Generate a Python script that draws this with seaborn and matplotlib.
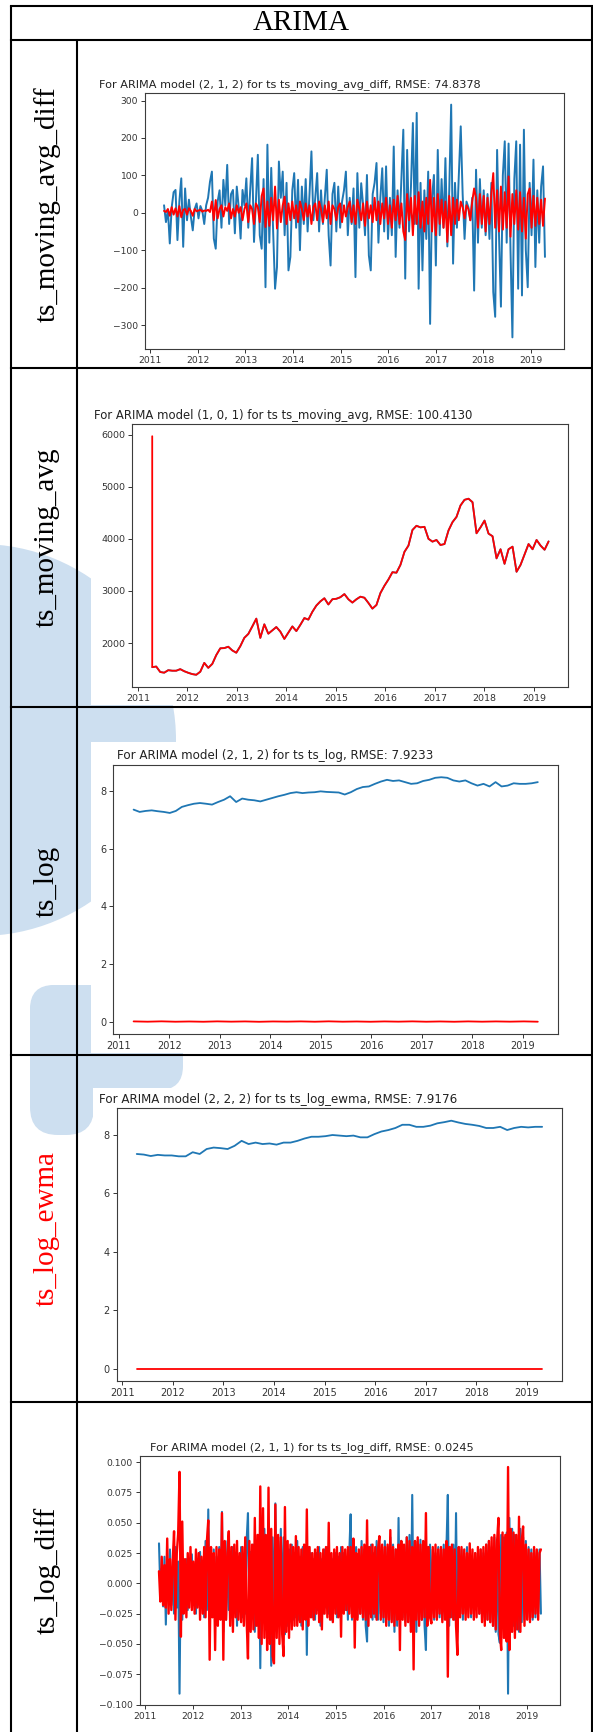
import numpy as np
import pandas as pd
import matplotlib
matplotlib.use("Agg")
import matplotlib.pyplot as plt
import matplotlib.dates as mdates
from matplotlib.patches import Circle, FancyBboxPatch, Rectangle
import seaborn as sns

# ---------------------------------------------------------------- data
START, END = "2011-04-17", "2019-04-20"

row_labels = ["ts_moving_avg_diff", "ts_moving_avg", "ts_log", "ts_log_ewma", "ts_log_diff"]
row_label_colors = ["black", "black", "black", "red", "black"]
header = "ARIMA"
titles = [
    "For ARIMA model (2, 1, 2) for ts ts_moving_avg_diff, RMSE: 74.8378",
    "For ARIMA model (1, 0, 1) for ts ts_moving_avg, RMSE: 100.4130",
    "For ARIMA model (2, 1, 2) for ts ts_log, RMSE: 7.9233",
    "For ARIMA model (2, 2, 2) for ts ts_log_ewma, RMSE: 7.9176",
    "For ARIMA model (2, 1, 1) for ts ts_log_diff, RMSE: 0.0245",
]

# ts_moving_avg_diff: observed (blue) and fitted (red)
mad_obs = [
    20, -25, 8, -82, 15, 55, 61, -73, 30, 92,
    -91, 65, -20, 35, -10, -47, 10, 25, -15, 18,
    5, -30, 20, 40, 83, 110, -69, -96, 30, 60,
    -40, 88, 20, 128, -30, 50, 61, -55, 70, 15,
    -69, 61, 20, 92, -40, 60, 146, -78, 30, 155,
    -60, -96, 90, -199, 182, -80, 120, -50, -203, -145,
    137, 40, 110, -60, 80, -154, -118, 60, 106, -40,
    88, -100, 70, -30, 90, -50, 50, 164, -20, 40,
    106, -50, 60, -30, 40, 115, -60, -141, 50, 80,
    -50, 70, -40, 30, 60, 110, -60, 40, -30, 65,
    -172, 106, -40, 79, 20, -60, 101, -114, -154, 50,
    80, 133, -80, 40, 119, -50, 124, -70, 40, -60,
    177, -118, 60, -40, 90, 222, -176, 168, -50, 70,
    240, -30, 267, -203, 80, -154, 60, -70, 110, -297,
    40, 101, -141, 168, -60, 90, -40, 146, -90, 60,
    289, -136, 80, -40, 100, 231, 50, -70, 30, 15,
    -20, 40, -208, 115, -80, 90, -40, 60, -60, 50,
    -70, 80, -212, -278, 168, -60, -251, 100, 191, -80,
    185, -100, -333, 90, 191, -203, 182, -221, 222, -100,
    -199, 80, -60, 142, -145, 60, -80, 70, 124, -118,
]
mad_fit = [
    5, 2, 10, -8, 15, -5, 12, -10, 18, -12,
    8, 10, -5, 12, 5, -8, 10, 4, 6, 8,
    3, 6, 5, 8, 2, 30, -20, 34, -15, 10,
    20, -10, 15, 5, 25, -15, 10, -10, 20, 0,
    15, -20, 10, 25, -25, 20, 10, -30, 25, 15,
    -25, 45, 65, -38, 30, -35, 40, -20, 70, -42,
    35, -25, 20, 43, -30, 25, -20, 30, -15, 20,
    -25, 30, 10, -20, 25, -10, 20, -30, 15, 25,
    -20, 30, 10, -25, 20, -15, 30, -30, 20, 10,
    -20, 15, 25, -25, 20, -10, 15, 30, -25, 20,
    -30, 35, 10, -20, 25, -35, 30, -15, 20, -25,
    40, -20, 30, -30, 25, -15, 40, -30, 20, -40,
    35, -20, 45, -30, 25, -50, -73, 50, -20, 40,
    -60, 45, -30, 55, -40, 30, -50, 40, -30, 88,
    -50, 40, -60, 50, -30, 35, -40, 30, -78, 45,
    -60, 40, -30, 35, -20, 30, 15, -15, 20, 10,
    -20, 30, 65, 40, -40, 50, -30, 45, -50, 40,
    -30, 50, 106, -40, 60, -50, 70, -45, 55, -40,
    97, -64, 50, -30, 60, -45, 55, -50, 40, -69,
    50, 65, -40, 45, -35, 40, -30, 35, -35, 38,
]

# ts_moving_avg: observed series and the first fitted value
ma_obs = [
    1538, 1550, 1445, 1432, 1480, 1470, 1470, 1500, 1460, 1430,
    1405, 1392, 1450, 1620, 1525, 1600, 1770, 1900, 1904, 1930,
    1859, 1815, 1940, 2100, 2175, 2320, 2469, 2100, 2360, 2180,
    2244, 2308, 2220, 2080, 2200, 2320, 2230, 2350, 2480, 2450,
    2600, 2720, 2800, 2860, 2740, 2841, 2850, 2880, 2940, 2840,
    2777, 2840, 2890, 2870, 2770, 2661, 2730, 2960, 3100, 3220,
    3360, 3350, 3500, 3750, 3870, 4170, 4250, 4220, 4230, 4000,
    3946, 3978, 3881, 3900, 4160, 4320, 4420, 4640, 4748, 4770,
    4703, 4106, 4220, 4350, 4100, 4050, 3625, 3800, 3520, 3800,
    3850, 3368, 3500, 3700, 3900, 3800, 3978, 3870, 3790, 3950,
]
ma_fit_first = 5968

# ts_log: observed (blue) and fitted (red)
log_obs = [
    7.356, 7.276, 7.31, 7.33, 7.30, 7.276, 7.24, 7.31, 7.45, 7.51,
    7.56, 7.585, 7.56, 7.53, 7.62, 7.70, 7.82, 7.62, 7.74, 7.70,
    7.68, 7.64, 7.70, 7.76, 7.82, 7.87, 7.93, 7.96, 7.93, 7.95,
    7.96, 7.99, 7.97, 7.96, 7.95, 7.88, 7.96, 8.07, 8.14, 8.16,
    8.25, 8.33, 8.39, 8.35, 8.37, 8.31, 8.25, 8.27, 8.35, 8.39,
    8.46, 8.48, 8.46, 8.37, 8.33, 8.37, 8.27, 8.19, 8.25, 8.16,
    8.31, 8.16, 8.19, 8.27, 8.25, 8.25, 8.27, 8.31,
]
log_fit = [
    0.006, -0.004, 0.008, -0.005, 0.003, -0.006, 0.007, -0.003, 0.005, -0.007,
    0.004, -0.002, 0.006, -0.005, 0.008, -0.004, 0.003, -0.006, 0.005, -0.003,
    0.007, -0.005, 0.004, -0.006, 0.006, -0.004, 0.005, -0.003, 0.006, -0.005,
]

# ts_log_ewma: observed (blue) and fitted (red)
ewma_obs = [
    7.35, 7.33, 7.28, 7.32, 7.30, 7.30, 7.27, 7.27, 7.41, 7.35,
    7.52, 7.57, 7.55, 7.52, 7.63, 7.80, 7.69, 7.74, 7.69, 7.71,
    7.67, 7.74, 7.74, 7.80, 7.88, 7.94, 7.94, 7.96, 8.00, 7.98,
    7.96, 7.98, 7.92, 7.92, 8.03, 8.12, 8.17, 8.24, 8.35, 8.35,
    8.28, 8.28, 8.32, 8.40, 8.44, 8.49, 8.43, 8.38, 8.35, 8.31,
    8.24, 8.24, 8.28, 8.17, 8.24, 8.28, 8.26, 8.28, 8.28,
]
ewma_fit = [0.0, 0.0, 0.0, 0.0, 0.0, 0.0, 0.0, 0.0, 0.0, 0.0]

# ts_log_diff: observed (blue) and fitted (red)
ld_obs = [
    .033, -.006, .012, -.019, .022, -.034, .015, -.012, .028, -.018, .010, -.025, .030, -.020, .018, -.091, .025, -.030, .012, -.015,
    .020, -.022, .015, -.010, .024, -.018, .012, -.025, .020, -.015, .026, -.020, .018, -.028, .035, -.022, .061, -.030, .020, -.025,
    .028, -.035, .022, -.018, .030, -.026, .059, -.040, .025, -.030, .035, -.022, .018, -.028, .030, -.020, .025, -.035, .022, -.018,
    .030, -.028, .020, -.025, .035, .058, -.030, .026, -.020, .032, -.040, .028, -.035, .040, -.070, .035, -.030, .045, -.038, .030,
    -.045, .040, -.068, .038, -.050, .066, -.040, .035, -.032, .045, -.030, .038, -.042, .030, -.035, .028, -.025, .032, -.030, .025,
    -.028, .035, -.030, .022, -.035, .030, -.025, .028, -.059, .030, -.022, .025, -.028, .020, -.030, .025, -.022, .030, -.035, .020,
    -.025, .028, -.020, .030, -.025, .022, -.030, .020, -.018, .025, -.028, .022, -.025, .030, -.020, .025, -.022, .018, -.030, .025,
    .057, -.030, .025, -.020, .030, -.028, .022, -.025, .035, -.030, .028, -.035, -.048, .030, -.025, .032, -.030, .025, -.028, .035,
    -.030, .030, -.025, .028, -.032, .035, -.028, .030, -.035, .038, -.030, .032, -.040, .028, -.035, .054, -.030, .035, -.028, .030,
    -.032, .038, -.030, .040, -.035, .073, -.030, .035, -.040, .032, -.028, .036, -.030, .025, -.035, -.055, .030, -.028, .032, -.025,
    .028, -.030, .025, -.022, .030, -.028, .025, -.030, .032, -.025, .030, .073, -.035, .030, -.028, .032, -.030, .058, -.040, .030,
    -.025, .028, -.030, .022, -.025, .030, -.020, .025, -.028, .020, -.022, .025, -.018, .022, -.025, .028, -.030, .025, -.028, .032,
    -.030, .035, -.032, .030, -.035, .038, -.040, .035, -.042, -.049, .040, -.035, .038, -.045, .042, -.091, .054, -.040, .045, -.035,
    .040, -.038, .035, -.040, .045, -.032, .038, -.030, .035, -.028, .030, -.025, .028, -.030, .025, -.028, .026, -.025, .028, -.025,
]
ld_fit = [
    .010, -.015, .022, -.018, .015, -.020, .037, -.025, .020, -.022, .018, .043, -.030, .025, .041, .092, -.044, .051, -.025, .020,
    -.028, .025, -.020, .030, -.022, .018, -.025, .028, -.020, .025, -.030, .022, -.025, .030, -.028, .035, .052, -.063, .030, -.028,
    .025, -.055, .030, -.035, .028, -.030, .058, -.063, .035, -.030, .025, .043, -.035, .030, -.040, .032, -.028, .035, -.030, .025,
    -.032, .030, -.035, .038, -.030, -.062, .035, -.040, .032, -.038, .054, -.035, .040, -.045, .080, -.050, .062, -.045, .040, -.055,
    .079, -.050, .045, -.060, -.066, .065, -.045, .040, -.050, .038, -.042, -.060, .063, -.040, .035, -.045, .032, -.038, .030, -.035,
    .039, -.035, .030, -.032, .028, -.038, .032, -.030, .061, -.035, .030, -.028, .025, -.030, .028, -.025, .030, -.032, .025, -.038,
    .028, -.025, .030, -.028, .050, -.030, .025, -.032, .028, -.025, .030, -.028, .025, -.044, .030, -.025, .028, -.022, .030, -.025,
    .030, -.028, .037, -.053, .025, -.030, .028, -.025, .030, -.028, .032, -.030, .052, -.035, .030, -.028, .032, -.025, .030, -.030,
    .028, .039, -.030, .032, -.028, .030, -.035, .032, -.030, .044, -.032, .030, -.035, .028, -.030, .032, -.055, .035, -.030, .032,
    -.035, .038, -.032, .035, -.040, .030, -.071, .035, -.030, .038, -.035, .032, -.030, .035, -.028, .058, -.035, .030, -.028, -.033,
    .030, -.028, .032, -.030, .028, -.025, .030, -.032, .028, -.030, .035, -.077, .030, -.028, .032, -.030, .028, -.035, -.059, .030,
    -.028, .030, -.025, .028, -.030, .025, -.028, .033, -.025, .028, -.030, .025, -.028, .030, -.025, .028, -.032, .030, -.035, .032,
    -.030, .035, -.032, .038, -.035, .040, -.038, .035, .054, -.040, -.055, .042, -.045, .040, -.048, .096, -.055, .045, -.040, .042,
    -.045, .040, -.038, .055, -.040, .035, .047, -.035, .032, -.030, .028, -.032, .025, -.028, .030, -.025, .028, -.030, .025, .028,
]

# ---------------------------------------------------------------- helpers
W, H = 593, 1732
BLUE, RED = "#1f77b4", "#ff0000"
TICK_COLOR = "#333333"

sns.set_style("ticks")
plt.rcParams["font.family"] = ["DejaVu Sans"]
plt.rcParams["axes.unicode_minus"] = True

fig = plt.figure(figsize=(W / 100, H / 100), dpi=100)
fig.patch.set_facecolor("white")

# page layer in pixel units (y grows downward)
page = fig.add_axes([0, 0, 1, 1], zorder=0)
page.set_xlim(0, W)
page.set_ylim(H, 0)
page.axis("off")

# faint logo watermark behind the table
WM = "#cddff0"
page.add_patch(Circle((-20, 740), 196, color=WM, lw=0, zorder=0))
page.add_patch(FancyBboxPatch((30, 985), 153, 105, boxstyle="round,pad=0,rounding_size=24",
                              color=WM, lw=0, zorder=0))
page.add_patch(FancyBboxPatch((30, 985), 64, 150, boxstyle="round,pad=0,rounding_size=28",
                              color=WM, lw=0, zorder=0))

# white backing of the embedded plots
for (x0, y0, x1, y1) in [(91, 372, 590, 705), (91, 742, 590, 1053), (93, 1088, 590, 1400)]:
    page.add_patch(Rectangle((x0, y0), x1 - x0, y1 - y0, color="white", lw=0, zorder=1))

# table grid
LW = 1.5
L, R, TOP = 11, 591.5, 5.5
DIV = 77
row_edges = [40, 368, 707, 1055, 1402]
page.plot([L, R], [TOP, TOP], color="black", lw=LW, zorder=3, solid_capstyle="projecting")
for y in row_edges:
    page.plot([L, R], [y, y], color="black", lw=LW, zorder=3, solid_capstyle="projecting")
page.plot([L, L], [TOP, H], color="black", lw=LW, zorder=3)
page.plot([R, R], [TOP, H], color="black", lw=LW, zorder=3)
page.plot([DIV, DIV], [row_edges[0], H], color="black", lw=LW, zorder=3)

SERIF = ["Liberation Serif", "DejaVu Serif"]
page.text((L + R) / 2, 23, header, family=SERIF, fontsize=21, color="black",
          ha="center", va="center", zorder=4)
label_y = [204, 537, 881, 1228, 1570]
for lab, col, y in zip(row_labels, row_label_colors, label_y):
    page.text(47, y, lab, family=SERIF, fontsize=21, color=col, rotation=90,
              ha="center", va="center", zorder=4)


def add_panel(box, title, title_x, title_fs, tick_fs):
    l, t, r, b = box
    ax = fig.add_axes([l / W, 1 - b / H, (r - l) / W, (b - t) / H], zorder=2)
    ax.set_facecolor("white")
    for s in ax.spines.values():
        s.set_visible(True)
        s.set_color("#3c3c3c")
        s.set_linewidth(0.8)
    ax.tick_params(direction="out", length=3, width=0.7, colors=TICK_COLOR,
                   labelsize=tick_fs, pad=2)
    ax.set_title(title, loc="left", x=title_x, fontsize=title_fs, pad=4, color="#222222")
    ax.xaxis.set_major_locator(mdates.YearLocator())
    ax.xaxis.set_major_formatter(mdates.DateFormatter("%Y"))
    return ax


def draw(ax, values, color, lw=1.3, dates=None):
    if dates is None:
        dates = pd.date_range(START, END, periods=len(values))
    sns.lineplot(x=dates, y=values, ax=ax, color=color, linewidth=lw,
                 estimator=None, sort=False)


# panel 1 -- ts_moving_avg_diff
ax1 = add_panel((145, 93, 564, 349), titles[0], -0.109, 8.1, 6.6)
draw(ax1, mad_obs, BLUE, lw=1.4)
draw(ax1, mad_fit, RED, lw=1.4)

# panel 2 -- ts_moving_avg; the fit starts at its first value, then follows the series
ax2 = add_panel((132.4, 424.3, 568.4, 686.7), titles[1], -0.087, 8.4, 6.8)
ma_dates = pd.date_range(START, END, periods=len(ma_obs))
ma_fit = [ma_fit_first] + ma_obs
ma_fit_dates = ma_dates[:1].append(ma_dates)
draw(ax2, ma_obs, BLUE, dates=ma_dates)
draw(ax2, ma_fit, RED, dates=ma_fit_dates)

# panel 3 -- ts_log
ax3 = add_panel((113.4, 765, 558, 1034), titles[2], 0.008, 8.6, 7.0)
draw(ax3, log_obs, BLUE)
draw(ax3, log_fit, RED)

# panel 4 -- ts_log_ewma
ax4 = add_panel((116.5, 1108.3, 562.4, 1381), titles[3], -0.039, 8.6, 7.0)
draw(ax4, ewma_obs, BLUE)
draw(ax4, ewma_fit, RED)

# panel 5 -- ts_log_diff
ax5 = add_panel((139.9, 1455.7, 560, 1705), titles[4], 0.024, 8.1, 6.6)
draw(ax5, ld_obs, BLUE, lw=1.5)
draw(ax5, ld_fit, RED, lw=1.7)

for ax in (ax1, ax2, ax3, ax4, ax5):
    ax.set_xlabel("")
    ax.set_ylabel("")

fig.savefig("out.png", dpi=100, facecolor="white")
